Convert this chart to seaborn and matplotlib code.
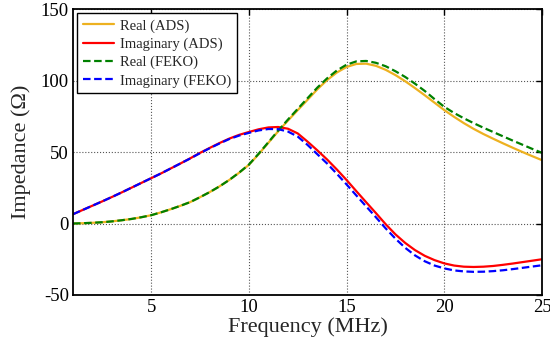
import numpy as np
import pandas as pd
import matplotlib
matplotlib.use("Agg")
import matplotlib.pyplot as plt
import seaborn as sns

freq = [1, 1.5, 2, 2.5, 3, 3.5, 4, 4.5, 5, 5.5, 6, 6.5, 7, 7.5, 8, 8.5, 9, 9.5,
        10, 10.5, 11, 11.5, 12, 12.5, 13, 13.5, 14, 14.5, 15, 15.5, 16, 16.5,
        17, 17.5, 18, 18.5, 19, 19.5, 20, 20.5, 21, 21.5, 22, 22.5, 23, 23.5,
        24, 24.5, 25]

real_ads = [0, 0.2, 0.5, 0.9, 1.5, 2.3, 3.2, 4.4, 5.8, 7.8, 10.0, 12.4, 15.0,
            18.4, 22.0, 26.0, 30.5, 35.5, 41.0, 48.5, 56.5, 64.5, 72.0, 79.3,
            86.5, 93.8, 100.3, 105.6, 109.5, 111.6, 111.8, 110.3, 107.5, 103.8,
            99.5, 94.7, 89.7, 84.5, 79.3, 74.6, 70.2, 66.2, 62.6, 59.3, 56.1,
            53.0, 50.0, 47.1, 44.3]

imag_ads = [6.5, 9.5, 12.5, 15.5, 18.6, 21.8, 25.1, 28.4, 31.7, 35.0, 38.5,
            42.0, 45.6, 49.4, 52.9, 56.3, 59.4, 62.0, 64.0, 65.9, 67.2, 67.5,
            66.3, 63.0, 57.3, 51.2, 44.8, 37.8, 30.4, 22.6, 14.9, 7.3, -0.5,
            -7.6, -13.6, -18.6, -22.6, -25.6, -27.9, -29.4, -30.2, -30.4,
            -30.2, -29.7, -28.9, -28.0, -27.0, -26.0, -25.0]

real_feko = [0, 0.2, 0.5, 0.9, 1.5, 2.3, 3.2, 4.4, 5.8, 7.8, 10.0, 12.4, 15.0,
             18.4, 22.0, 26.0, 30.5, 35.6, 41.2, 48.8, 56.9, 65.0, 72.7, 80.2,
             87.6, 95.0, 101.5, 107.0, 111.1, 113.4, 113.7, 112.4, 110.0,
             106.5, 102.5, 97.8, 92.7, 87.0, 81.6, 77.3, 73.6, 70.2, 67.0,
             64.0, 61.0, 58.0, 55.1, 52.2, 49.4]

imag_feko = [6.5, 9.5, 12.5, 15.5, 18.6, 21.8, 25.1, 28.4, 31.7, 35.0, 38.5,
             42.0, 45.5, 49.2, 52.7, 56.0, 59.1, 61.5, 63.4, 65.1, 66.1, 66.0,
             64.3, 60.8, 55.0, 48.5, 42.0, 34.8, 27.3, 19.6, 12.0, 4.4, -3.4,
             -10.6, -17.0, -22.3, -26.4, -29.4, -31.4, -32.8, -33.5, -33.8,
             -33.7, -33.3, -32.7, -31.9, -31.0, -30.1, -29.2]

labels = ["Real (ADS)", "Imaginary (ADS)", "Real (FEKO)", "Imaginary (FEKO)"]
colors = ["#EDB120", "#FF0000", "#008000", "#0000FF"]
styles = ["-", "-", "--", "--"]
series = [real_ads, imag_ads, real_feko, imag_feko]

sns.set_style("white")
plt.rcParams["font.family"] = ["Liberation Serif", "DejaVu Serif"]
plt.rcParams["axes.unicode_minus"] = False

fig = plt.figure(figsize=(5.5, 3.48), dpi=100)
ax = fig.add_axes([0.1327, 0.1523, 0.8528, 0.8217])

for lab, col, ls, vals in zip(labels, colors, styles, series):
    df = pd.DataFrame({"f": freq, "z": vals})
    sns.lineplot(data=df, x="f", y="z", ax=ax, color=col, linestyle=ls,
                 linewidth=1.6, label=lab)
    if ls == "--":
        ax.lines[-1].set_dashes((3.4, 1.6))

ax.set_xlim(1, 25)
ax.set_ylim(-50, 150)
ax.set_xticks([5, 10, 15, 20, 25])
ax.set_yticks([-50, 0, 50, 100, 150])
ax.tick_params(axis="both", which="both", direction="in", top=True, right=True,
               labelsize=13.5, length=4, width=1, colors="black", pad=3)
ax.grid(True, color="#555555", linestyle=":", linewidth=0.8)
for sp in ax.spines.values():
    sp.set_visible(True)
    sp.set_color("black")
    sp.set_linewidth(1.3)

ax.set_xlabel("Frequency (MHz)", fontsize=16, labelpad=1)
ax.set_ylabel("Impedance (Ω)", fontsize=16, labelpad=7)

leg = ax.legend(loc="upper left", fontsize=10.5, frameon=True, fancybox=False,
                framealpha=1, edgecolor="black", handlelength=2.1,
                handletextpad=0.4, borderpad=0.4, labelspacing=0.33,
                borderaxespad=0.3)
leg.get_frame().set_linewidth(1.0)

fig.savefig("out.png", dpi=100)
